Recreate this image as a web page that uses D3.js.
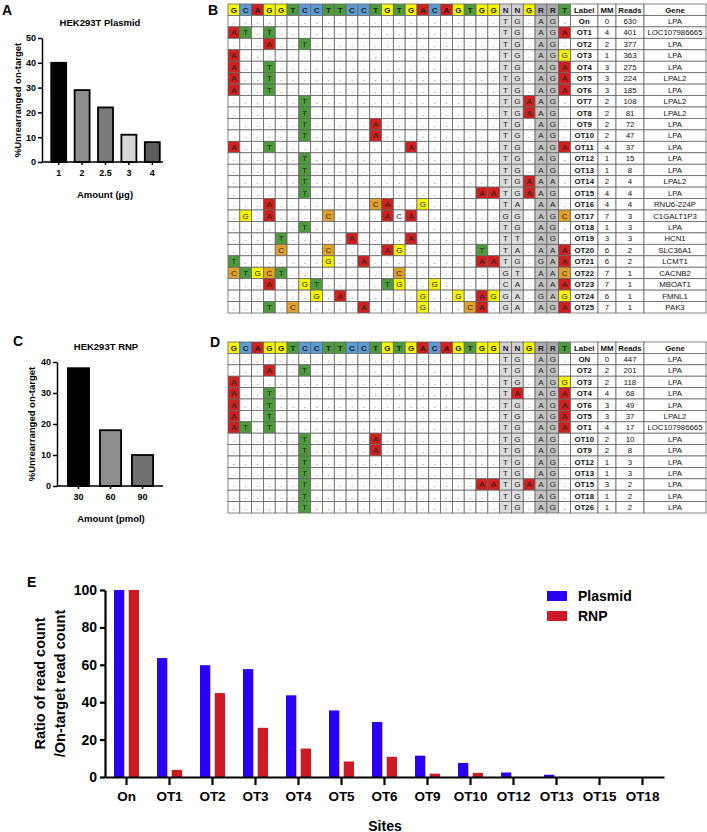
<!DOCTYPE html>
<html><head><meta charset="utf-8">
<script src="https://cdn.jsdelivr.net/npm/d3@7"></script>
<style>body{margin:0;background:#fff}svg{display:block}</style>
</head><body>
<svg id="c" width="707" height="832"></svg>
<script>
// ---------------- DATA ----------------
const amountsA = ["1", "2", "2.5", "3", "4"];
const valuesA = [40, 29, 22, 11, 8];
const fillsA = ["#000000", "#8e8e8e", "#7a7a7a", "#d6d6d6", "#5c5c5c"];
const ticksA = [0, 10, 20, 30, 40, 50];

const amountsC = ["30", "60", "90"];
const valuesC = [38, 18, 10];
const fillsC = ["#000000", "#8e8e8e", "#707070"];
const ticksC = [0, 10, 20, 30, 40];

const guide = "GCAGGTCCTTCCTGTGACAGTGGNNGRRT".split("");
const tableHead = ["Label", "MM", "Reads", "Gene"];

// B table (uppercase = highlighted base, lowercase = plain base, "." = match)
const labelsB = ["On","OT1","OT2","OT3","OT4","OT5","OT6","OT7","OT8","OT9","OT10","OT11","OT12","OT13","OT14","OT15","OT16","OT17","OT18","OT19","OT20","OT21","OT22","OT23","OT24","OT25"];
const mmB = [0,4,2,1,3,3,3,2,2,2,2,4,1,1,2,4,4,7,1,3,6,6,7,7,6,7];
const readsB = [630,401,377,363,275,224,185,108,81,72,47,37,15,8,4,4,4,3,3,3,2,2,1,1,1,1];
const genesB = ["LPA","LOC107986665","LPA","LPA","LPA","LPAL2","LPA","LPAL2","LPAL2","LPA","LPA","LPA","LPA","LPA","LPAL2","LPA","RNU6-224P","C1GALT1P3","LPA","HCN1","SLC36A1","LCMT1","CACNB2","MBOAT1","FMNL1","PAK3"];
const spacerB = ["", "AT.T", "...A..T", "A", "A..T", "A..T", "A..T", "......T", "......T",
  "......T.....A", "......T.....A", "A..T...........A", "......T", "......T", "......T",
  "......T..............AA", "...A........CA..G", ".G.A....C....AcA", "......T",
  "....T.....A....A", "....C...C....AG......T.", "T.......G..A.........AA",
  "CTGCT.........C", "...A..GT.....TG..G", ".......G.A......G..G.AG", "...T.C.....A....G...CA."];
const pamB = ["tg.ag.","tg.agA","tg.ag.","tg.agG","tg.agA","tg.agA","tg.agA","tgAag.","tgAag.","tg.ag.","tg.ag.","tg.agA","tg.ag.","tg.ag.","tgAaa.","tgAag.","ta.aa.","gg.agC","tg.ag.","tt.ag.","ta.aaA","tg.gaA","gt.aaC","ca.aaA","ga.gaG","ga.agA"];

// D table
const labelsD = ["ON","OT2","OT3","OT4","OT6","OT5","OT1","OT10","OT9","OT12","OT13","OT15","OT18","OT26"];
const mmD = [0,2,2,4,3,3,4,2,2,1,1,3,1,1];
const readsD = [447,201,118,68,49,37,17,10,8,3,3,2,2,2];
const genesD = ["LPA","LPA","LPA","LPA","LPA","LPAL2","LOC107986665","LPA","LPA","LPA","LPA","LPA","LPA","LPA"];
const spacerD = ["", "...A..T", "A", "A..T", "A..T", "A..T", "AT.T", "......T.....A", "......T.....A",
  "......T", "......T", "......T..............AA", "......T", "......T"];
const pamD = ["tg.ag.","tg.ag.","tg.agG","tA.agA","tg.agA","tg.agA","tg.agA","tg.ag.","tg.ag.","tg.ag.","tg.ag.","tgAag.","tg.ag.","tg.ag."];

// E chart
const sitesE = ["On","OT1","OT2","OT3","OT4","OT5","OT6","OT9","OT10","OT12","OT13","OT15","OT18"];
const seriesE = ["Plasmid", "RNP"];
const plasmidE = [100, 63.6, 59.8, 57.7, 43.7, 35.6, 29.4, 11.4, 7.5, 2.4, 1.2, 0, 0];
const rnpE = [100, 3.8, 44.9, 26.3, 15.2, 8.3, 10.8, 1.8, 2.2, 0, 0, 0, 0];
const ticksE = [0, 20, 40, 60, 80, 100];
const colorsE = {Plasmid: "#2a00f6", RNP: "#cc1b22"};

// ---------------- DRAW ----------------
const svg = d3.select("#c");
const FONT = "'Liberation Sans', Arial, Helvetica, sans-serif";

function panelLabel(t, x, y) {
  svg.append("text").attr("x", x).attr("y", y).text(t)
    .attr("font-family", FONT).attr("font-weight", "bold").attr("font-size", 14);
}
panelLabel("A", 2, 15); panelLabel("B", 208, 15);
panelLabel("C", 13, 346); panelLabel("D", 210, 347); panelLabel("E", 27, 587);

function styleAxis(g, fs, sw) {
  g.selectAll("text").attr("font-family", FONT).attr("font-weight", "bold").attr("font-size", fs).attr("fill", "#000");
  g.selectAll("line").attr("stroke", "#000").attr("stroke-width", sw);
  g.selectAll("path").attr("stroke", "#000").attr("stroke-width", sw);
}

function smallBar(cfg) {
  const y = d3.scaleLinear().domain(cfg.ydom).range(cfg.yr);
  const x = d3.scaleBand().domain(cfg.cats).range(cfg.xr).paddingInner(cfg.pad).paddingOuter(cfg.pad / 2);
  const g = svg.append("g");
  g.selectAll("rect.bar").data(cfg.vals).join("rect")
    .attr("x", (d, i) => x(cfg.cats[i])).attr("width", x.bandwidth())
    .attr("y", d => y(d)).attr("height", d => y(0) - y(d))
    .attr("fill", (d, i) => cfg.fills[i]).attr("stroke", "#000").attr("stroke-width", 1.8);
  const ya = g.append("g").attr("transform", `translate(${cfg.axX},0)`)
    .call(d3.axisLeft(y).tickValues(cfg.ticks).tickSize(4).tickPadding(2).tickSizeOuter(0));
  styleAxis(ya, 9, 1.5);
  const xa = g.append("g").attr("transform", `translate(0,${y(0)})`)
    .call(d3.axisBottom(x).tickSize(3).tickPadding(5).tickSizeOuter(0));
  xa.select(".domain").remove();
  styleAxis(xa, 9, 1.5);
  g.append("line").attr("x1", cfg.axX).attr("x2", cfg.xEnd).attr("y1", y(0)).attr("y2", y(0))
    .attr("stroke", "#000").attr("stroke-width", 1.5);
  g.append("text").attr("x", cfg.titleX).attr("y", cfg.titleY).attr("text-anchor", "middle")
    .attr("font-family", FONT).attr("font-weight", "bold").attr("font-size", 9.5).text(cfg.title);
  g.append("text").attr("x", cfg.titleX + 5).attr("y", cfg.xlabY).attr("text-anchor", "middle")
    .attr("font-family", FONT).attr("font-weight", "bold").attr("font-size", 9.5).text(cfg.xlab);
  g.append("text").attr("transform", `translate(${cfg.ylabX},${(cfg.yr[0] + cfg.yr[1]) / 2}) rotate(-90)`)
    .attr("text-anchor", "middle").attr("dy", "0.35em")
    .attr("font-family", FONT).attr("font-weight", "bold").attr("font-size", 9.5).text("%Unrearranged on-target");
}

smallBar({cats: amountsA, vals: valuesA, fills: fillsA, ticks: ticksA, ydom: [0, 50], yr: [162, 38],
  xr: [47, 164], pad: 0.36, axX: 42, xEnd: 163, title: "HEK293T Plasmid", titleX: 100, titleY: 26,
  xlab: "Amount (\u00b5g)", xlabY: 198, ylabX: 18});
smallBar({cats: amountsC, vals: valuesC, fills: fillsC, ticks: ticksC, ydom: [0, 40], yr: [486, 362],
  xr: [62.5, 158.5], pad: 0.34, axX: 57, xEnd: 163, title: "HEK293T RNP", titleX: 106, titleY: 350,
  xlab: "Amount (pmol)", xlabY: 522, ylabX: 32});

// ---------- Tables ----------
const baseCol = {A: "#cf1f1f", T: "#4d9b3d", G: "#f5f500", C: "#e2a22a"};
const headCol = {A: "#cf1f1f", T: "#4d9b3d", G: "#f5f500", C: "#5b9bd5", N: "#cfcfcf", R: "#aaaaaa"};
const xs = d3.scaleBand().domain(d3.range(guide.length)).range([228, 570.5]);
const infoEdges = [570.5, 598, 616, 644, 706];

function drawTable(top, bottom, labels, mm, reads, genes, spacers, pams) {
  const n = labels.length;
  const ys = d3.scaleBand().domain(d3.range(n + 1)).range([top, bottom]);
  const g = svg.append("g").attr("font-family", FONT);
  const cells = [];
  guide.forEach((b, c) => cells.push({r: 0, c, ch: b, fill: headCol[b], bold: true}));
  for (let r = 0; r < n; r++) {
    const seq = spacers[r].padEnd(23, ".") + pams[r];
    seq.split("").forEach((ch, c) => {
      let fill = "#ffffff";
      if (c === 23 || c === 24) fill = "#dcdcdc";
      if (c === 26 || c === 27) fill = "#c2c2c2";
      const hi = ch !== "." && ch === ch.toUpperCase();
      if (hi) fill = baseCol[ch];
      cells.push({r: r + 1, c, ch: ch.toUpperCase(), fill, bold: false});
    });
  }
  g.selectAll("rect.cell").data(cells).join("rect")
    .attr("x", d => xs(d.c)).attr("y", d => ys(d.r)).attr("width", xs.bandwidth()).attr("height", ys.bandwidth())
    .attr("fill", d => d.fill).attr("stroke", "#666").attr("stroke-width", 0.8);
  g.selectAll("text.cell").data(cells).join("text")
    .attr("x", d => xs(d.c) + xs.bandwidth() / 2).attr("y", d => ys(d.r) + ys.bandwidth() / 2)
    .attr("text-anchor", "middle").attr("dy", "0.36em")
    .attr("font-size", d => d.ch === "." ? 8 : 8).attr("font-weight", d => d.bold ? "bold" : "normal")
    .attr("fill", d => d.ch === "." ? "#555" : "#222").text(d => d.ch);
  // info columns
  const info = [];
  tableHead.forEach((h, k) => info.push({r: 0, k, t: h, bold: true}));
  for (let r = 0; r < n; r++) {
    info.push({r: r + 1, k: 0, t: labels[r], bold: true});
    info.push({r: r + 1, k: 1, t: String(mm[r]), bold: false});
    info.push({r: r + 1, k: 2, t: String(reads[r]), bold: false});
    info.push({r: r + 1, k: 3, t: genes[r], bold: false});
  }
  g.selectAll("rect.info").data(info).join("rect")
    .attr("x", d => infoEdges[d.k]).attr("y", d => ys(d.r))
    .attr("width", d => infoEdges[d.k + 1] - infoEdges[d.k]).attr("height", ys.bandwidth())
    .attr("fill", "#fff").attr("stroke", "#666").attr("stroke-width", 0.8);
  g.selectAll("text.info").data(info).join("text")
    .attr("x", d => (infoEdges[d.k] + infoEdges[d.k + 1]) / 2).attr("y", d => ys(d.r) + ys.bandwidth() / 2)
    .attr("text-anchor", "middle").attr("dy", "0.36em").attr("font-size", 7.8)
    .attr("font-weight", d => d.bold ? "bold" : "normal").attr("fill", "#111").text(d => d.t);
}
drawTable(4, 313, labelsB, mmB, readsB, genesB, spacerB, pamB);
drawTable(342, 513, labelsD, mmD, readsD, genesD, spacerD, pamD);

// ---------- E ----------
const yE = d3.scaleLinear().domain([0, 100]).range([777, 590]);
const xE = d3.scaleBand().domain(sitesE).range([105, 664]);
const x1E = d3.scaleBand().domain(seriesE).range([-12.5, 12.5]).paddingInner(0.3);
const gE = svg.append("g");
const rowsE = sitesE.map((s, i) => ({site: s, Plasmid: plasmidE[i], RNP: rnpE[i]}));
gE.selectAll("g.site").data(rowsE).join("g")
  .attr("transform", d => `translate(${xE(d.site) + xE.bandwidth() / 2},0)`)
  .selectAll("rect").data(d => seriesE.map(k => ({k, v: d[k]}))).join("rect")
  .attr("x", d => x1E(d.k)).attr("width", x1E.bandwidth())
  .attr("y", d => yE(d.v)).attr("height", d => yE(0) - yE(d.v))
  .attr("fill", d => colorsE[d.k]);
const yaE = gE.append("g").attr("transform", "translate(105,0)")
  .call(d3.axisLeft(yE).tickValues(ticksE).tickSize(5).tickPadding(3).tickSizeOuter(0));
styleAxis(yaE, 14, 2.2);
const xaE = gE.append("g").attr("transform", `translate(0,${yE(0)})`)
  .call(d3.axisBottom(xE).tickSize(8).tickPadding(6).tickSizeOuter(0));
styleAxis(xaE, 13.5, 2.2);
gE.append("text").attr("x", 385).attr("y", 831).attr("text-anchor", "middle")
  .attr("font-family", FONT).attr("font-weight", "bold").attr("font-size", 14).text("Sites");
const ylE = gE.append("text").attr("transform", `translate(0,${(yE(0) + yE(100)) / 2}) rotate(-90)`)
  .attr("text-anchor", "middle").attr("font-family", FONT).attr("font-weight", "bold").attr("font-size", 14.5);
ylE.append("tspan").attr("x", 0).attr("y", 45).text("Ratio of read count");
ylE.append("tspan").attr("x", 0).attr("y", 65).text("/On-target read count");
// legend
const lg = gE.append("g").attr("transform", "translate(547,591)");
seriesE.forEach((k, i) => {
  lg.append("rect").attr("x", 0).attr("y", i * 20).attr("width", 20).attr("height", 10).attr("fill", colorsE[k]);
  lg.append("text").attr("x", 31).attr("y", i * 20 + 5).attr("dy", "0.36em")
    .attr("font-family", FONT).attr("font-weight", "bold").attr("font-size", 14).text(k);
});
</script>
</body></html>
